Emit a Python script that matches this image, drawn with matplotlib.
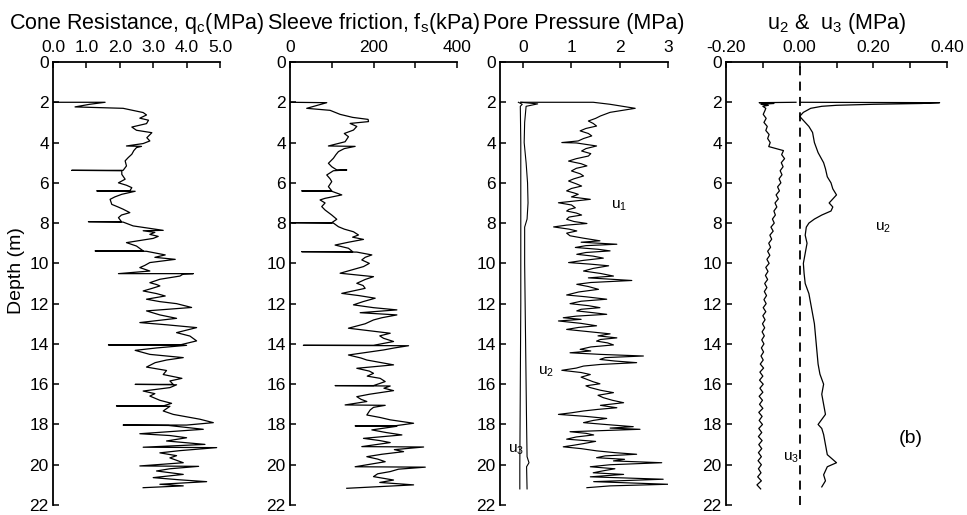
import matplotlib
matplotlib.use("Agg")
import matplotlib.pyplot as plt
from matplotlib.ticker import FixedLocator

plt.rcParams['font.family'] = ['Liberation Sans', 'DejaVu Sans']
plt.rcParams['mathtext.default'] = 'regular'

# (depth m, value)
qc_points = [
    (2.00, 0.0), (2.00, 1.56), (2.10, 1.10), (2.23, 0.66), (2.30, 2.10), (2.51, 2.70),
    (2.63, 2.80), (2.79, 2.60), (2.89, 2.86), (3.06, 2.80), (3.23, 2.36), (3.39, 2.50),
    (3.51, 2.96), (3.76, 2.81), (3.92, 2.90), (4.05, 2.70), (4.17, 2.20), (4.19, 2.65),
    (4.25, 2.50), (4.40, 2.42), (4.58, 2.36), (4.75, 2.25), (4.91, 2.16), (5.16, 2.20),
    (5.38, 2.10), (5.38, 0.56), (5.40, 2.06), (5.58, 2.06), (5.82, 2.16), (6.00, 1.96),
    (6.12, 2.20), (6.24, 2.36), (6.40, 2.30), (6.40, 1.31), (6.42, 2.46), (6.57, 2.06),
    (6.70, 1.85), (6.82, 1.71), (7.07, 1.76), (7.20, 1.95), (7.31, 2.10), (7.48, 2.30),
    (7.60, 2.05), (7.73, 1.96), (7.93, 2.05), (7.93, 1.06), (7.95, 2.10), (8.14, 2.40),
    (8.36, 3.30), (8.38, 2.70), (8.46, 3.05), (8.56, 2.90), (8.66, 3.15), (8.76, 3.00),
    (8.97, 2.20), (9.14, 2.50), (9.38, 2.70), (9.38, 1.26), (9.40, 2.80), (9.58, 3.36),
    (9.70, 3.05), (9.80, 3.66), (9.96, 2.90), (10.10, 2.75), (10.21, 2.60), (10.38, 2.90),
    (10.51, 1.96), (10.51, 4.20), (10.53, 3.90), (10.63, 3.80), (10.79, 3.20), (10.96, 2.90),
    (11.05, 3.10), (11.12, 3.20), (11.25, 2.95), (11.37, 2.70), (11.50, 3.10), (11.62, 3.36),
    (11.78, 2.80), (11.90, 3.20), (12.00, 3.70), (12.19, 4.15), (12.36, 2.80), (12.56, 3.20),
    (12.73, 3.70), (12.94, 2.60), (13.05, 3.40), (13.19, 4.30), (13.44, 3.70), (13.61, 4.10),
    (13.85, 4.30), (14.05, 3.80), (14.05, 1.66), (14.07, 4.00), (14.20, 3.10), (14.32, 2.46),
    (14.52, 2.90), (14.68, 3.90), (14.80, 3.40), (14.93, 3.06), (15.15, 2.80), (15.32, 3.40),
    (15.52, 3.30), (15.71, 3.86), (15.84, 3.50), (16.01, 3.60), (16.01, 2.46), (16.03, 3.70),
    (16.17, 3.50), (16.34, 2.70), (16.47, 3.05), (16.59, 2.90), (16.80, 3.20), (16.95, 3.55),
    (17.08, 3.30), (17.08, 1.90), (17.10, 3.50), (17.33, 3.30), (17.50, 3.60), (17.74, 4.40),
    (17.91, 4.80), (18.03, 4.00), (18.03, 2.10), (18.05, 3.46), (18.24, 4.50), (18.46, 2.60),
    (18.55, 3.50), (18.66, 4.00), (18.82, 3.40), (18.99, 4.55), (19.13, 2.70), (19.15, 4.90),
    (19.30, 3.80), (19.41, 3.20), (19.55, 3.70), (19.66, 3.50), (19.90, 3.90), (20.06, 2.60),
    (20.08, 4.36), (20.20, 3.50), (20.31, 3.10), (20.48, 3.90), (20.64, 3.00), (20.75, 3.80),
    (20.84, 4.60), (20.97, 3.20), (21.05, 3.90), (21.14, 2.70),
]

fs_points = [
    (2.00, 0), (2.02, 88), (2.30, 40), (2.40, 96), (2.60, 120), (2.75, 150), (2.85, 187),
    (2.96, 188), (3.05, 144), (3.20, 160), (3.38, 152), (3.55, 130), (3.71, 140), (3.96, 132),
    (4.17, 92), (4.19, 156), (4.30, 130), (4.45, 116), (4.60, 110), (4.78, 104), (5.03, 92),
    (5.20, 100), (5.36, 112), (5.36, 136), (5.40, 104), (5.61, 88), (5.80, 96), (5.94, 100),
    (6.19, 92), (6.40, 100), (6.40, 28), (6.42, 100), (6.60, 124), (6.77, 84), (6.85, 72),
    (7.00, 84), (7.18, 76), (7.35, 84), (7.60, 100), (7.81, 112), (7.98, 100), (7.98, 4),
    (8.00, 104), (8.18, 116), (8.30, 130), (8.43, 152), (8.59, 164), (8.70, 150), (8.81, 176),
    (8.95, 140), (9.09, 108), (9.25, 140), (9.42, 150), (9.42, 28), (9.44, 160), (9.58, 196),
    (9.70, 180), (9.83, 172), (10.00, 190), (10.16, 176), (10.49, 120), (10.66, 200),
    (10.80, 180), (10.99, 160), (11.10, 175), (11.24, 180), (11.49, 124), (11.60, 165),
    (11.73, 204), (11.90, 175), (12.06, 152), (12.20, 200), (12.31, 256), (12.45, 168),
    (12.56, 256), (12.70, 220), (12.81, 200), (13.00, 180), (13.22, 140), (13.47, 240),
    (13.60, 215), (13.72, 224), (13.88, 248), (14.07, 200), (14.07, 32), (14.09, 284),
    (14.20, 250), (14.30, 224), (14.55, 140), (14.70, 170), (14.80, 184), (15.04, 248),
    (15.21, 160), (15.35, 190), (15.46, 200), (15.60, 185), (15.71, 216), (15.87, 228),
    (16.07, 200), (16.07, 108), (16.09, 240), (16.20, 225), (16.32, 248), (16.50, 190),
    (16.62, 160), (16.75, 170), (16.86, 184), (17.03, 132), (17.05, 228), (17.15, 200),
    (17.28, 192), (17.53, 184), (17.65, 215), (17.77, 240), (17.94, 296), (18.07, 250),
    (18.07, 156), (18.09, 256), (18.27, 196), (18.40, 230), (18.52, 268), (18.69, 176),
    (18.80, 215), (18.90, 240), (19.10, 172), (19.12, 320), (19.25, 250), (19.35, 272),
    (19.48, 220), (19.60, 184), (19.72, 210), (19.85, 228), (20.10, 156), (20.12, 324),
    (20.22, 260), (20.34, 240), (20.45, 210), (20.59, 200), (20.76, 248), (20.88, 215),
    (21.00, 296), (21.17, 136),
]

u1_points = [
    (2.00, -0.05), (2.00, 1.45), (2.10, 1.80), (2.30, 2.32), (2.50, 1.80), (2.68, 1.60),
    (2.80, 1.50), (2.93, 1.35), (3.05, 1.45), (3.18, 1.52), (3.30, 1.30), (3.42, 1.18),
    (3.55, 1.35), (3.67, 1.42), (3.80, 1.25), (3.92, 1.14), (4.00, 0.80), (4.02, 1.10),
    (4.17, 1.52), (4.30, 1.30), (4.42, 1.21), (4.55, 1.40), (4.67, 1.35), (4.80, 1.10),
    (4.92, 0.94), (5.05, 1.20), (5.16, 1.32), (5.28, 1.10), (5.41, 1.00), (5.55, 1.18),
    (5.66, 1.25), (5.80, 1.05), (5.91, 0.94), (6.05, 1.10), (6.16, 1.21), (6.28, 1.00),
    (6.40, 0.90), (6.50, 1.05), (6.57, 1.14), (6.70, 1.00), (6.82, 1.39), (6.99, 0.73),
    (7.10, 1.00), (7.24, 1.08), (7.32, 0.95), (7.40, 0.90), (7.50, 1.10), (7.60, 1.21),
    (7.70, 0.95), (7.81, 0.90), (7.92, 1.05), (8.02, 1.32), (8.10, 0.90), (8.19, 0.63),
    (8.30, 0.95), (8.39, 1.11), (8.50, 0.90), (8.63, 0.97), (8.75, 1.25), (8.88, 1.59),
    (8.95, 1.20), (9.05, 1.94), (9.12, 1.30), (9.21, 1.08), (9.30, 1.55), (9.38, 1.80),
    (9.46, 1.30), (9.55, 1.11), (9.64, 1.45), (9.74, 1.66), (9.85, 1.25), (9.96, 0.94),
    (10.04, 1.40), (10.12, 1.77), (10.25, 1.45), (10.38, 1.25), (10.50, 1.60), (10.63, 1.87),
    (10.72, 1.35), (10.85, 2.25), (10.95, 1.40), (11.04, 1.11), (11.15, 1.35), (11.29, 1.56),
    (11.42, 1.15), (11.57, 0.90), (11.66, 1.30), (11.78, 1.73), (11.88, 1.20), (12.00, 0.97),
    (12.10, 1.35), (12.20, 1.59), (12.28, 1.20), (12.36, 1.11), (12.45, 1.45), (12.53, 1.73),
    (12.62, 1.10), (12.70, 0.83), (12.78, 1.20), (12.86, 0.73), (12.98, 1.20), (13.10, 1.52),
    (13.18, 1.15), (13.28, 0.90), (13.40, 1.40), (13.50, 1.80), (13.60, 1.55), (13.70, 1.94),
    (13.78, 1.60), (13.86, 1.52), (13.95, 1.75), (14.05, 1.87), (14.15, 1.40), (14.27, 1.18),
    (14.35, 1.40), (14.44, 0.97), (14.52, 1.60), (14.60, 2.49), (14.68, 1.70), (14.77, 1.59),
    (14.85, 1.90), (14.93, 2.35), (15.02, 1.60), (15.10, 1.25), (15.20, 1.10), (15.31, 0.80),
    (15.42, 1.20), (15.52, 1.39), (15.65, 1.20), (15.76, 1.32), (15.88, 1.45), (15.98, 1.59),
    (16.08, 1.30), (16.17, 1.39), (16.30, 1.60), (16.42, 1.87), (16.55, 1.55), (16.67, 1.66),
    (16.80, 1.85), (16.92, 2.08), (17.05, 1.60), (17.17, 1.94), (17.25, 1.55), (17.33, 1.25),
    (17.42, 1.00), (17.50, 0.73), (17.60, 1.30), (17.70, 1.73), (17.80, 1.45), (17.91, 1.25),
    (18.00, 1.70), (18.11, 2.28), (18.18, 1.80), (18.24, 2.42), (18.30, 1.70), (18.36, 0.97),
    (18.44, 1.30), (18.52, 1.46), (18.62, 1.10), (18.73, 0.90), (18.84, 1.50), (18.95, 1.25),
    (19.03, 1.05), (19.11, 0.83), (19.20, 1.20), (19.31, 1.52), (19.40, 1.90), (19.48, 2.35),
    (19.56, 1.70), (19.65, 1.52), (19.73, 2.10), (19.81, 1.87), (19.90, 2.87), (20.00, 1.80),
    (20.10, 1.39), (20.20, 1.90), (20.30, 1.66), (20.40, 1.45), (20.48, 2.08), (20.60, 1.39),
    (20.72, 2.90), (20.84, 1.46), (20.97, 3.00), (21.05, 1.80), (21.14, 1.32),
]

pp_u2_points = [
    (2.00, -0.05), (2.08, 0.30), (2.20, 0.06), (3.0, 0.03), (4.0, 0.02), (5.0, 0.06),
    (6.0, 0.09), (7.0, 0.10), (7.8, 0.08), (8.2, 0.03), (9.0, 0.03), (10.0, 0.03),
    (12.0, 0.04), (14.0, 0.05), (16.0, 0.06), (18.0, 0.07), (19.6, 0.08), (19.9, 0.12),
    (20.1, 0.07), (21.2, 0.08),
]

pp_u3_points = [
    (2.00, -0.10), (2.10, -0.02), (2.20, -0.06), (4.0, -0.05), (8.0, -0.05), (12.0, -0.05),
    (16.0, -0.06), (20.0, -0.07), (21.2, -0.07),
]

b_u2_points = [
    (2.00, 0.0), (2.02, 0.38), (2.06, 0.33), (2.10, 0.20), (2.15, 0.10), (2.20, 0.06),
    (2.30, 0.03), (2.50, 0.01), (2.70, 0.0), (2.90, 0.01), (3.20, 0.025), (3.50, 0.035),
    (4.00, 0.04), (4.50, 0.05), (5.00, 0.065), (5.30, 0.07), (5.70, 0.075), (6.00, 0.085),
    (6.30, 0.09), (6.60, 0.10), (6.80, 0.09), (7.00, 0.08), (7.20, 0.09), (7.40, 0.085),
    (7.60, 0.06), (7.80, 0.04), (8.00, 0.025), (8.20, 0.018), (8.60, 0.015), (9.00, 0.02),
    (9.50, 0.015), (10.0, 0.01), (10.5, 0.012), (11.0, 0.015), (11.5, 0.025), (12.0, 0.03),
    (12.5, 0.035), (13.0, 0.04), (14.0, 0.045), (15.0, 0.05), (15.5, 0.055), (16.0, 0.065),
    (16.5, 0.06), (17.0, 0.065), (17.5, 0.07), (18.0, 0.05), (18.2, 0.06), (18.5, 0.065),
    (19.0, 0.07), (19.5, 0.075), (19.9, 0.10), (20.1, 0.075), (20.5, 0.065), (20.8, 0.07),
    (21.1, 0.06),
]

b_u3_points = [
    (2.00, -0.01), (2.02, -0.11), (2.06, -0.07), (2.10, -0.105), (2.15, -0.085), (2.20, -0.10),
    (2.30, -0.092), (2.4, -0.094), (2.6, -0.099), (2.8, -0.091), (3.0, -0.097), (3.2, -0.088),
    (3.4, -0.092), (3.6, -0.083), (3.8, -0.087), (4.0, -0.080), (4.2, -0.084), (4.4, -0.044),
    (4.6, -0.049), (4.8, -0.041), (5.0, -0.050), (5.2, -0.045), (5.4, -0.053), (5.6, -0.048),
    (5.8, -0.056), (6.0, -0.051), (6.2, -0.060), (6.4, -0.055), (6.6, -0.064), (6.8, -0.058),
    (7.0, -0.067), (7.2, -0.062), (7.4, -0.070), (7.6, -0.066), (7.8, -0.074), (8.0, -0.069),
    (8.2, -0.078), (8.4, -0.072), (8.6, -0.081), (8.8, -0.076), (9.0, -0.084), (9.2, -0.079),
    (9.4, -0.087), (9.6, -0.081), (9.8, -0.089), (10.0, -0.083), (10.2, -0.092), (10.4, -0.086),
    (10.6, -0.093), (10.8, -0.087), (11.0, -0.095), (11.2, -0.089), (11.4, -0.096), (11.6, -0.090),
    (11.8, -0.097), (12.0, -0.091), (12.2, -0.099), (12.4, -0.092), (12.6, -0.100), (12.8, -0.094),
    (13.0, -0.101), (13.2, -0.095), (13.4, -0.102), (13.6, -0.096), (13.8, -0.103), (14.0, -0.097),
    (14.2, -0.104), (14.4, -0.098), (14.6, -0.105), (14.8, -0.099), (15.0, -0.107), (15.2, -0.098),
    (15.4, -0.108), (15.6, -0.100), (15.8, -0.109), (16.0, -0.099), (16.2, -0.108), (16.4, -0.100),
    (16.6, -0.110), (16.8, -0.101), (17.0, -0.109), (17.2, -0.100), (17.4, -0.111), (17.6, -0.102),
    (17.8, -0.110), (18.0, -0.101), (18.2, -0.111), (18.4, -0.103), (18.6, -0.112), (18.8, -0.102),
    (19.0, -0.111), (19.2, -0.103), (19.4, -0.112), (19.6, -0.104), (19.8, -0.113), (20.0, -0.104),
    (20.2, -0.112), (20.4, -0.105), (20.6, -0.114), (20.8, -0.104), (21.0, -0.116), (21.2, -0.106),
]

depth_ticks = list(range(0, 23, 2))


def trace(ax, points, lw=0.9):
    d = [p[0] for p in points]
    v = [p[1] for p in points]
    ax.plot(v, d, color='black', lw=lw)


def style(ax, title):
    ax.set_ylim(22, 0)
    ax.xaxis.tick_top()
    ax.spines['right'].set_visible(False)
    ax.spines['bottom'].set_visible(False)
    ax.spines['left'].set_linewidth(1.3)
    ax.spines['top'].set_linewidth(1.3)
    ax.set_yticks(depth_ticks)
    ax.tick_params(axis='both', which='both', direction='in', length=4, width=1.1,
                   labelsize=12.5, pad=3)
    ax.tick_params(axis='x', pad=5)
    ax.set_title(title, fontsize=15.5, pad=24)


fig = plt.figure(figsize=(9.67, 5.15), dpi=100)
bottom, height = 0.0194, 0.8602

ax1 = fig.add_axes([0.0548, bottom, 0.1727, height])
trace(ax1, qc_points)
ax1.set_xlim(0, 5)
ax1.set_xticks([0, 1, 2, 3, 4, 5])
ax1.set_xticklabels(['0.0', '1.0', '2.0', '3.0', '4.0', '5.0'])
style(ax1, 'Cone Resistance, q$_c$(MPa)')
ax1.set_ylabel('Depth (m)', fontsize=14)
ax1.yaxis.set_label_coords(-0.165, 0.53)

ax2 = fig.add_axes([0.2999, bottom, 0.1727, height])
trace(ax2, fs_points)
ax2.set_xlim(0, 400)
ax2.set_xticks([0, 200, 400])
ax2.xaxis.set_minor_locator(FixedLocator([100, 300]))
style(ax2, 'Sleeve friction, f$_s$(kPa)')

ax3 = fig.add_axes([0.5171, bottom, 0.1737, height])
trace(ax3, u1_points, lw=0.85)
trace(ax3, pp_u2_points, lw=0.8)
trace(ax3, pp_u3_points, lw=0.8)
ax3.set_xlim(-0.48, 3)
ax3.set_xticks([0, 1, 2, 3])
style(ax3, 'Pore Pressure (MPa)')
ax3.text(1.82, 7.3, 'u$_1$', fontsize=11)
ax3.text(0.3, 15.5, 'u$_2$', fontsize=11)
ax3.text(-0.32, 19.4, 'u$_3$', fontsize=11)

ax4 = fig.add_axes([0.7508, bottom, 0.2285, height])
ax4.axvline(0, color='black', lw=1.3, ls=(0, (5, 3.5)))
trace(ax4, b_u2_points)
trace(ax4, b_u3_points)
ax4.set_xlim(-0.2, 0.4)
ax4.set_xticks([-0.2, 0.0, 0.2, 0.4])
ax4.set_xticklabels(['-0.20', '0.00', '0.20', '0.40'])
ax4.xaxis.set_minor_locator(FixedLocator([-0.1, 0.1, 0.3]))
style(ax4, 'u$_2$ &  u$_3$ (MPa)')
ax4.text(0.205, 8.35, 'u$_2$', fontsize=11)
ax4.text(-0.045, 19.8, 'u$_3$', fontsize=11)
ax4.text(0.27, 18.9, '(b)', fontsize=14)

fig.savefig('out.png', dpi=100)
